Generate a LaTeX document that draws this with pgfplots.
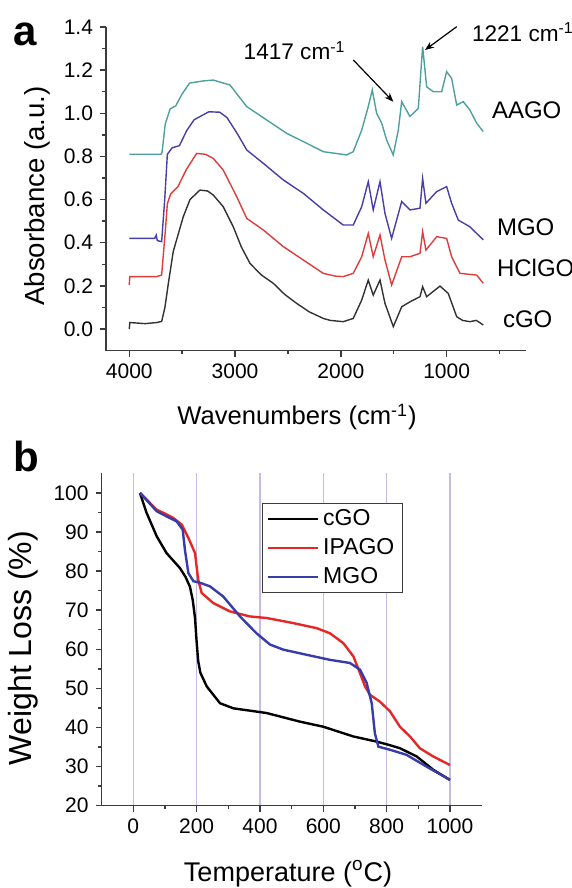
\documentclass[border=0pt]{standalone}
\usepackage{fontspec}
\setmainfont{Liberation Sans}
\usepackage{pgfplots}
\pgfplotsset{compat=1.18}
\usetikzlibrary{arrows.meta}

\definecolor{aago}{RGB}{78,160,160}
\definecolor{mgoa}{RGB}{72,62,168}
\definecolor{hcl}{RGB}{225,60,60}
\definecolor{cgoa}{RGB}{50,50,50}
\definecolor{ipago}{RGB}{228,40,40}
\definecolor{mgob}{RGB}{55,60,170}
\definecolor{gridc}{RGB}{195,188,230}
\definecolor{axc}{RGB}{60,60,60}

\pgfplotsset{origin/.style={
    scale only axis,
    axis x line*=bottom, axis y line*=left,
    tick align=outside,
    axis line style={axc, line width=0.7bp},
    every tick/.style={axc, line width=0.7bp},
    major tick length=3bp, minor tick length=1.8bp,
    tick label style={font=\fontsize{10.5bp}{12bp}\selectfont},
    /pgf/number format/assume math mode=true,
    /pgf/number format/1000 sep={},
    scaled ticks=false,
    clip=false,
}}

\begin{document}
\begin{tikzpicture}
\useasboundingbox (0,0) rectangle (286bp,444bp);

% ---- panel a: FTIR ----
\begin{axis}[origin,
    at={(53bp,268.7bp)}, anchor=south west,
    width=210bp, height=161.8bp,
    x dir=reverse,
    xmin=250, xmax=4220, ymin=-0.1, ymax=1.4,
    xtick={1000,2000,3000,4000}, minor xtick={500,1500,2500,3500},
    ytick={0,0.2,0.4,0.6,0.8,1.0,1.2,1.4},
    minor ytick={0.1,0.3,0.5,0.7,0.9,1.1,1.3},
    yticklabel style={/pgf/number format/.cd, fixed, fixed zerofill, precision=1},
]
% cGO
\addplot[cgoa, line width=0.7bp] coordinates {
(4000,0.0)(3995,0.03)(3850,0.025)(3741,0.03)(3694,0.035)(3663,0.1)(3631,0.21)
(3584,0.36)(3490,0.52)(3426,0.6)(3332,0.644)(3260,0.64)(3206,0.621)(3112,0.567)
(3017,0.474)(2940,0.38)(2859,0.304)(2750,0.25)(2639,0.212)(2530,0.16)(2418,0.119)
(2300,0.08)(2166,0.049)(2100,0.04)(1977,0.034)(1883,0.049)(1803,0.134)(1741,0.227)
(1694,0.157)(1630,0.227)(1583,0.119)(1504,0.011)(1425,0.103)(1347,0.126)
(1252,0.15)(1227,0.196)(1189,0.15)(1063,0.199)(985,0.165)(905,0.057)(850,0.04)
(780,0.034)(720,0.04)(654,0.019)};
% HClGO
\addplot[hcl, line width=0.7bp] coordinates {
(4000,0.204)(3995,0.243)(3741,0.243)(3694,0.25)(3660,0.45)(3640,0.58)(3610,0.625)
(3540,0.66)(3460,0.74)(3363,0.814)(3280,0.81)(3206,0.791)(3112,0.737)(2985,0.614)
(2890,0.513)(2733,0.459)(2544,0.382)(2355,0.32)(2166,0.258)(2050,0.245)(1977,0.243)
(1883,0.258)(1803,0.335)(1741,0.443)(1694,0.335)(1630,0.436)(1583,0.32)(1520,0.204)
(1425,0.335)(1347,0.335)(1252,0.351)(1227,0.451)(1196,0.366)(1094,0.428)(1000,0.42)
(953,0.335)(874,0.258)(716,0.25)(654,0.212)};
% MGO
\addplot[mgoa, line width=0.7bp] coordinates {
(4000,0.42)(3760,0.42)(3745,0.435)(3735,0.41)(3694,0.405)(3665,0.6)(3640,0.81)
(3595,0.84)(3526,0.85)(3457,0.92)(3387,0.97)(3248,1.007)(3145,1.005)(3076,0.98)
(2972,0.9)(2890,0.83)(2733,0.768)(2544,0.691)(2355,0.629)(2166,0.552)(1977,0.482)
(1883,0.482)(1803,0.567)(1741,0.683)(1694,0.552)(1630,0.683)(1583,0.536)(1520,0.42)
(1425,0.591)(1347,0.552)(1252,0.56)(1227,0.698)(1196,0.583)(1094,0.637)(1000,0.66)
(953,0.583)(890,0.505)(780,0.474)(654,0.413)};
% AAGO
\addplot[aago, line width=0.7bp] coordinates {
(4000,0.81)(3700,0.81)(3690,0.82)(3660,0.95)(3614,1.02)(3560,1.035)(3500,1.09)
(3430,1.14)(3300,1.15)(3206,1.154)(3048,1.131)(2890,1.031)(2701,0.969)(2512,0.907)
(2323,0.861)(2166,0.822)(1945,0.807)(1883,0.822)(1803,0.922)(1741,1.031)
(1703,1.108)(1662,1.0)(1614,0.954)(1567,0.876)(1505,0.807)(1457,0.922)(1425,1.054)
(1347,0.985)(1268,1.023)(1227,1.309)(1189,1.123)(1127,1.1)(1047,1.1)(1000,1.193)
(953,1.162)(905,1.038)(843,1.054)(780,1.015)(716,0.954)(654,0.915)};
\end{axis}

% ---- panel b: TGA ----
\begin{axis}[origin,
    at={(50.8bp,41.15bp)}, anchor=south west,
    width=190bp, height=166.2bp,
    xmin=-100, xmax=1100, ymin=20, ymax=105,
    xtick={0,200,400,600,800,1000}, minor xtick={100,300,500,700,900},
    ytick={20,30,40,50,60,70,80,90,100},
    minor ytick={25,35,45,55,65,75,85,95},
    xmajorgrids, major grid style={gridc, line width=0.6bp},
    legend style={at={(0.423,0.911)}, anchor=north west, draw=axc,
        line width=0.5bp, font=\fontsize{11.5bp}{13bp}\selectfont,
        inner xsep=2bp, inner ysep=1bp, row sep=1bp},
    legend cell align=left,
    legend image code/.code={\draw[#1] (0bp,0bp) -- (25bp,0bp);},
]
\addplot[black, line width=1.2bp] coordinates {
(21,100)(42,94.9)(74,88.9)(105,84.6)(147,80.8)(165,78.5)(179,76)(188,72.5)
(195,68)(200,62)(205,57)(212,54)(232,50.5)(274,46.2)(316,44.9)(421,43.7)
(526,41.5)(600,40.2)(695,37.7)(768,36.4)(805,35.6)(842,34.7)(895,32.6)
(947,29.2)(1000,26.6)};
\addlegendentry{cGO}
\addplot[ipago, line width=1.2bp] coordinates {
(21,100)(42,98.3)(74,95.7)(105,94.5)(126,93.6)(153,91.9)(174,88.5)(195,84.6)
(205,77.8)(216,74.4)(253,71.8)(305,69.7)(368,68.4)(421,68)(505,66.7)(579,65.4)
(621,64.1)(663,61.6)(695,58.2)(716,53.9)(732,50.5)(747,48.4)(779,46.6)(811,44.1)
(842,40.2)(874,37.7)(905,34.7)(947,32.6)(1000,30.4)};
\addlegendentry{IPAGO}
\addplot[mgob, line width=1.2bp] coordinates {
(21,100)(74,95.3)(105,94)(137,92.7)(156,90.6)(163,85.5)(174,79.5)(190,77.4)
(211,77)(242,76.1)(284,73.5)(337,68.4)(389,64.1)(432,61.2)(474,59.9)(547,58.6)
(621,57.3)(684,56.5)(716,54.8)(737,51.4)(753,46.2)(763,38.5)(774,35.1)(811,34.3)
(863,33)(926,30)(1000,26.6)};
\addlegendentry{MGO}
\end{axis}

% ---- labels ----
\node[font=\fontsize{21bp}{24bp}\selectfont\bfseries] at (12.5bp,427bp) {a};
\node[font=\fontsize{21bp}{24bp}\selectfont\bfseries] at (13bp,216bp) {b};

\begin{scope}[font=\fontsize{12bp}{14bp}\selectfont]
\node[anchor=west] at (242.5bp,389bp) {AAGO};
\node[anchor=west] at (245bp,330.5bp) {MGO};
\node[anchor=west] at (245bp,310bp) {HClGO};
\node[anchor=west] at (248bp,284.5bp) {cGO};
\end{scope}

\begin{scope}[font=\fontsize{11.3bp}{13bp}\selectfont]
\node[anchor=base west, inner sep=0pt] at (121.65bp,414bp) {1417 cm\textsuperscript{-1}};
\node[anchor=base west, inner sep=0pt] at (235.8bp,423.2bp) {1221 cm\textsuperscript{-1}};
\end{scope}
\draw[line width=0.6bp, -{Stealth[length=4.5bp,width=3.5bp]}] (176.65bp,414bp) -- (196.65bp,393.15bp);
\draw[line width=0.6bp, -{Stealth[length=4.5bp,width=3.5bp]}] (228.35bp,430.65bp) -- (212.5bp,419bp);

\node[anchor=base, font=\fontsize{12.8bp}{15bp}\selectfont] at (148.5bp,231.5bp) {Wavenumbers (cm\textsuperscript{-1})};
\node[rotate=90, font=\fontsize{13.8bp}{16bp}\selectfont] at (18.5bp,346bp) {Absorbance (a.u.)};
\node[anchor=base, font=\fontsize{13.5bp}{16bp}\selectfont] at (144bp,3.5bp) {Temperature (\textsuperscript{o}C)};
\node[rotate=90, font=\fontsize{16bp}{18bp}\selectfont] at (11.5bp,120bp) {Weight Loss (\%)};
\end{tikzpicture}
\end{document}
